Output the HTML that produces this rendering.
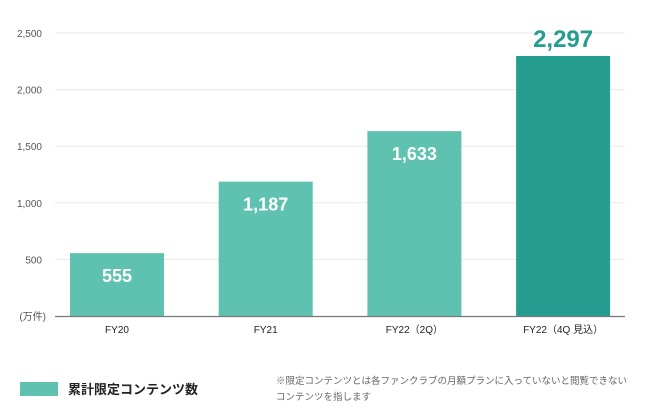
<!DOCTYPE html>
<html><head><meta charset="utf-8"><style>
body{margin:0;background:#fff;}
svg{display:block;font-family:"Liberation Sans","Noto Sans CJK JP",sans-serif;}
</style></head><body>
<svg id="chart" width="650" height="418" viewBox="0 0 650 418">
<g id="grid"></g>
<g id="bars"></g>
<g id="ylabels"></g>
<g id="xlabels"></g>
<text x="46" y="320" font-size="10" fill="#555" text-anchor="end">(万件)</text>
<line x1="55" y1="316.5" x2="625" y2="316.5" stroke="#777" stroke-width="1.2"/>
<rect x="20" y="382" width="38" height="14" fill="#5fc1b0"/>
<text x="68" y="394" font-size="13" font-weight="bold" fill="#222">累計限定コンテンツ数</text>
<text x="276" y="384" font-size="9.5" fill="#666">※限定コンテンツとは各ファンクラブの月額プランに入っていないと閲覧できない</text>
<text x="276" y="400" font-size="9.5" fill="#666">コンテンツを指します</text>
</svg>
<script>
const categories=["FY20","FY21","FY22（2Q）","FY22（4Q 見込）"];
const values=[555,1187,1633,2297];
const valueLabels=["555","1,187","1,633","2,297"];
const ticks=[500,1000,1500,2000,2500];
const tickLabels=["500","1,000","1,500","2,000","2,500"];
const NS="http://www.w3.org/2000/svg";
const y0=316,yTop=33,maxV=2500;
const y=v=>y0-(v/maxV)*(y0-yTop);
const left=55,right=625,n=categories.length,band=148.7,bw=94;
const x=i=>117+band*i;
function mk(tag,attrs,parent){const e=document.createElementNS(NS,tag);for(const k in attrs)e.setAttribute(k,attrs[k]);document.getElementById(parent).appendChild(e);return e;}
ticks.forEach((t,i)=>{
 const l=mk("line",{x1:left,x2:right,y1:y(t),y2:y(t),stroke:"#e8e8e8","stroke-width":1},"grid");
 
 
 const tx=mk("text",{x:42,y:y(t)+4,"font-size":10,fill:"#555","text-anchor":"end"},"ylabels");
 tx.textContent=tickLabels[i];
 
 
});
values.forEach((v,i)=>{
 const last=i===n-1;
 const r=mk("rect",{x:x(i)-bw/2,y:y(v),width:bw,height:y0-y(v),fill:last?"#259e91":"#5fc1b0"},"bars");
 
 
 const lb=mk("text",{x:x(i),"text-anchor":"middle","font-weight":"bold"},"bars");
 if(last){lb.setAttribute("y",y(v)-9);lb.setAttribute("font-size",24);lb.setAttribute("fill","#259e91");}
 else{lb.setAttribute("y",y(v)+29);lb.setAttribute("font-size",18);lb.setAttribute("fill","#fff");}
 lb.textContent=valueLabels[i];
 
 
 const xl=mk("text",{x:x(i),y:333,"font-size":10,fill:"#222","text-anchor":"middle"},"xlabels");
 xl.textContent=categories[i];
 
 
});
</script>
</body></html>
